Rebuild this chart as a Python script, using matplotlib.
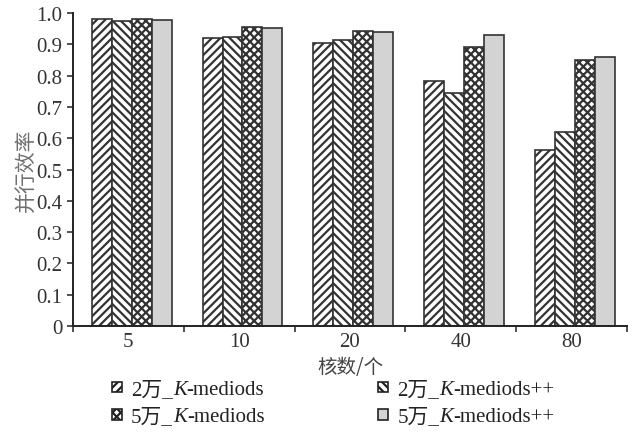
import matplotlib.pyplot as plt
import numpy as np
from matplotlib.patches import Rectangle
from matplotlib.offsetbox import (AnchoredOffsetbox, HPacker, VPacker,
                                  TextArea, DrawingArea)

plt.rcParams['font.family'] = ['Liberation Serif', 'Noto Sans CJK SC']
plt.rcParams['hatch.linewidth'] = 1.6
plt.rcParams['hatch.color'] = '#333333'

cores = ['5', '10', '20', '40', '80']
km_2w = [0.98, 0.92, 0.905, 0.783, 0.562]
kmpp_2w = [0.975, 0.925, 0.915, 0.743, 0.62]
km_5w = [0.982, 0.955, 0.943, 0.89, 0.85]
kmpp_5w = [0.977, 0.952, 0.938, 0.93, 0.86]

# (值, 数据量前缀, 算法后缀, 填充色, 纹理)
series = [
    (km_2w, '2万_', '-mediods', 'white', '////'),
    (kmpp_2w, '2万_', '-mediods++', 'white', '\\\\\\\\'),
    (km_5w, '5万_', '-mediods', 'white', 'xxxx'),
    (kmpp_5w, '5万_', '-mediods++', '#d3d3d3', None),
]

fig = plt.figure(figsize=(6.34, 4.39), dpi=100)
ax = fig.add_axes([0.115, 0.255, 0.874, 0.713])

x = np.arange(len(cores))
w = 0.18
for i, (vals, pre, suf, fc, hatch) in enumerate(series):
    pos = x + 0.03 + (i - 1.5) * w
    ax.bar(pos, vals, width=w, facecolor=fc, edgecolor='#333333',
           linewidth=1.2, hatch=hatch)

ax.set_xlim(-0.5, len(cores) - 0.5)
ax.set_ylim(0, 1.0)
ax.set_yticks(np.arange(0, 1.01, 0.1))
ax.set_yticklabels(['0'] + [f'{v:.1f}' for v in np.arange(0.1, 1.01, 0.1)])
ax.set_xticks(np.arange(-0.5, len(cores), 1.0))
ax.set_xticklabels([])
ax.set_xticks(x, minor=True)
ax.set_xticklabels(cores, minor=True)
ax.tick_params(axis='x', which='minor', length=0, pad=4)
ax.tick_params(axis='x', which='major', length=4.5, width=1.2, direction='out')
ax.tick_params(axis='y', length=4.5, width=1.2, direction='out', pad=3)
ax.tick_params(which='both', labelsize=15, colors='#333333')

for s in ['top', 'right']:
    ax.spines[s].set_visible(False)
for s in ['left', 'bottom']:
    ax.spines[s].set_linewidth(1.4)
    ax.spines[s].set_color('#222222')

ax.set_ylabel('并行效率', fontsize=15, color='#707070', labelpad=0,
              family=['Noto Sans CJK SC'])
ax.set_xlabel('核数/个', fontsize=14, color='#444444', labelpad=4,
              family=['Noto Sans CJK SC'])


# 图例：K 用斜体，所以用 offsetbox 自己拼
def entry(pre, suf, fc, hatch):
    da = DrawingArea(14, 10, 0, 0)
    da.add_artist(Rectangle((0, 1), 7.5, 7.5, facecolor=fc, edgecolor='#222222',
                            hatch=hatch, linewidth=1.2))
    fam = ['Liberation Serif', 'Noto Sans CJK SC']
    t1 = TextArea(pre, textprops=dict(family=fam, size=15, color='#222222'))
    t2 = TextArea('K', textprops=dict(family=fam, size=15, style='italic',
                                      color='#222222'))
    t3 = TextArea(suf, textprops=dict(family=fam, size=15, color='#222222'))
    return HPacker(children=[da, t1, t2, t3], sep=0, pad=0, align='baseline')


cols = [[series[0], series[2]], [series[1], series[3]]]
xs = [0.176, 0.596]
for col, xp in zip(cols, xs):
    box = VPacker(children=[entry(s[1], s[2], s[3], s[4]) for s in col],
                  sep=6, pad=0, align='left')
    ab = AnchoredOffsetbox(loc='upper left', child=box, pad=0, borderpad=0,
                           frameon=False, bbox_to_anchor=(xp, 0.133),
                           bbox_transform=fig.transFigure)
    fig.add_artist(ab)

fig.savefig('out.png', dpi=100)
